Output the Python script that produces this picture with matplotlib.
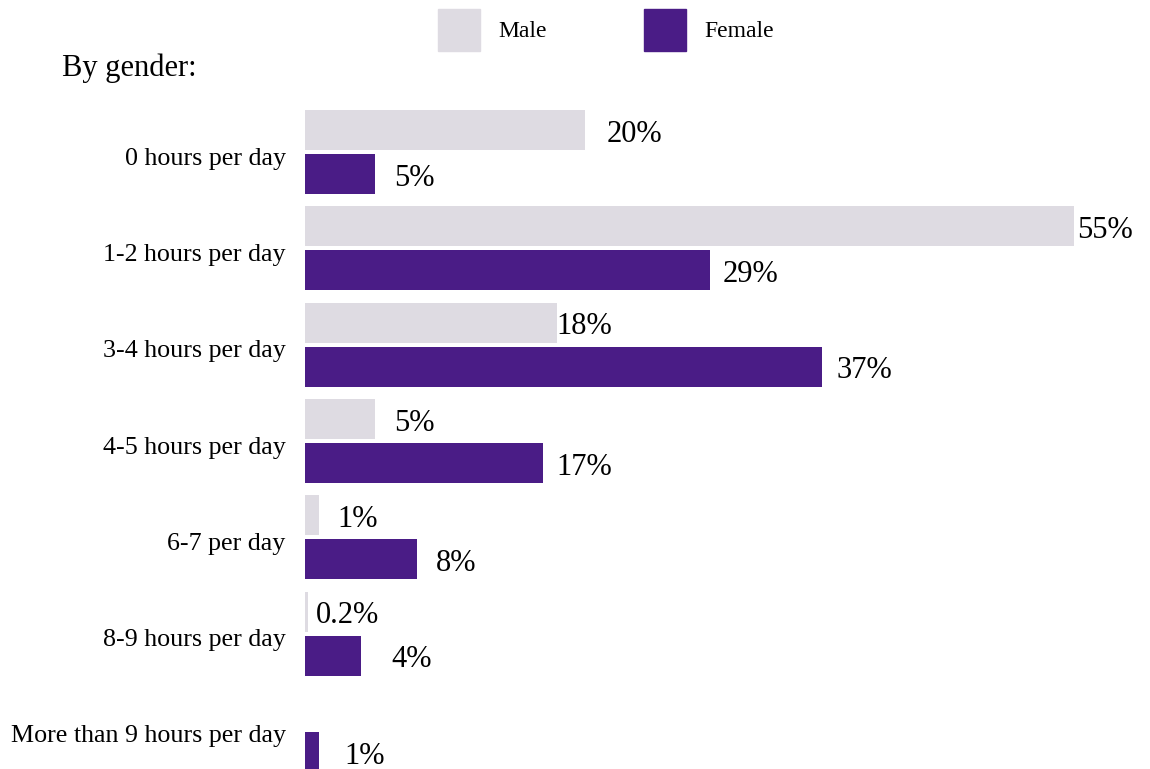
import matplotlib.pyplot as plt
import matplotlib.transforms as mtransforms
from matplotlib.patches import Patch
import numpy as np

plt.rcParams['font.family'] = ['Liberation Serif', 'DejaVu Serif']

# data
categories = ["0 hours per day", "1-2 hours per day", "3-4 hours per day",
              "4-5 hours per day", "6-7 per day", "8-9 hours per day",
              "More than 9 hours per day"]
male = [20, 55, 18, 5, 1, 0.2, 0]
female = [5, 29, 37, 17, 8, 4, 1]

male_col = "#dedbe2"
female_col = "#4a1c86"

# label gaps (points) so the numbers sit where the original has them
male_pad = [16, 2, 0, 14, 13, 6, 0]
female_pad = [14, 9, 10, 10, 14, 22, 18]

fig = plt.figure(figsize=(11.5, 7.69), dpi=100)
ax = fig.add_axes([305 / 1150, 0, 845 / 1150, 1])

y = np.arange(len(categories))
h = 0.415
off = 0.228

ax.barh(y - off, male, height=h, color=male_col)
ax.barh(y + off, female, height=h, color=female_col)

for i in range(len(categories)):
    if male[i] > 0:
        ax.annotate(f"{male[i]:g}%", (male[i], y[i] - off), xytext=(male_pad[i], -3),
                    textcoords="offset points", va="center", ha="left", fontsize=22)
    ax.annotate(f"{female[i]:g}%", (female[i], y[i] + off), xytext=(female_pad[i], -3),
                textcoords="offset points", va="center", ha="left", fontsize=22)

ax.set_xlim(0, 845 / 13.98)
ax.set_ylim(6 + 39 / 96.3, -152 / 96.3)
ax.set_yticks(y)
ax.set_yticklabels(categories, fontsize=18.7)
ax.tick_params(axis="y", length=0, pad=14)
shift = mtransforms.ScaledTranslation(0, -4 / 100, fig.dpi_scale_trans)
for lbl in ax.get_yticklabels():
    lbl.set_transform(lbl.get_transform() + shift)
ax.set_xticks([])
for s in ax.spines.values():
    s.set_visible(False)

fig.text(62 / 1150, 1 - 68 / 769, "By gender:", fontsize=22, va="center", ha="left")

handles = [Patch(color=male_col, label="Male"), Patch(color=female_col, label="Female")]
fig.legend(handles=handles, loc="upper center", bbox_to_anchor=(0.527, 1.0), ncol=2,
           frameon=False, fontsize=17, handlelength=1.78, handleheight=2.3,
           handletextpad=0.8, columnspacing=4.1, borderaxespad=0.0)

fig.savefig("out.png", dpi=100)
